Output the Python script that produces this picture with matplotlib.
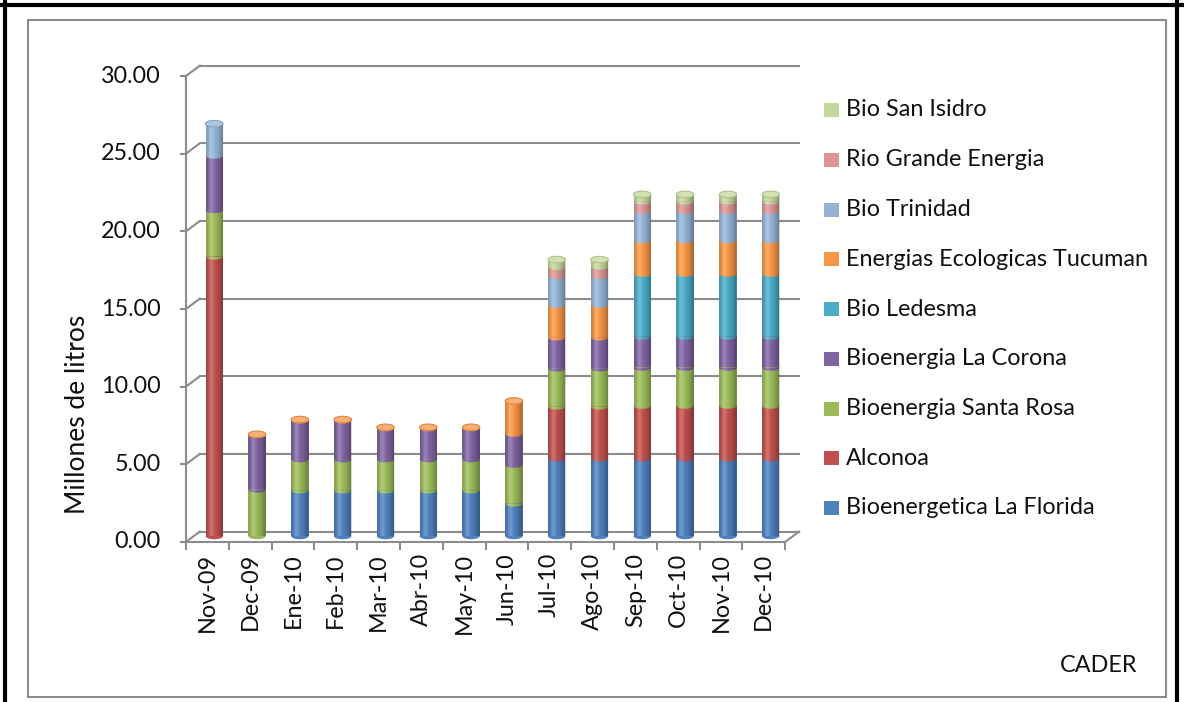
import matplotlib
matplotlib.use("Agg")
import matplotlib.pyplot as plt
import numpy as np
from matplotlib.patches import Rectangle, Ellipse, Polygon
from matplotlib.lines import Line2D

# ---------------- data ----------------
months = ["Nov-09", "Dec-09", "Ene-10", "Feb-10", "Mar-10", "Abr-10", "May-10",
          "Jun-10", "Jul-10", "Ago-10", "Sep-10", "Oct-10", "Nov-10", "Dec-10"]
florida    = [0.0, 0.0, 2.95, 2.95, 2.95, 2.95, 2.95, 2.1, 5.0, 5.0, 5.0, 5.0, 5.0, 5.0]
alconoa    = [18.0, 0.0, 0, 0, 0, 0, 0, 0, 3.35, 3.35, 3.4, 3.4, 3.4, 3.4]
santa_rosa = [3.0, 3.0, 2.0, 2.0, 2.0, 2.0, 2.0, 2.5, 2.45, 2.45, 2.45, 2.45, 2.45, 2.45]
la_corona  = [3.5, 3.5, 2.5, 2.5, 2.0, 2.0, 2.0, 2.0, 2.0, 2.0, 2.0, 2.0, 2.0, 2.0]
ledesma    = [0, 0, 0, 0, 0, 0, 0, 0, 0, 0, 4.05, 4.05, 4.05, 4.05]
tucuman    = [0, 0.05, 0.05, 0.05, 0.05, 0.05, 0.05, 2.1, 2.1, 2.1, 2.15, 2.15, 2.15, 2.15]
trinidad   = [2.05, 0, 0, 0, 0, 0, 0, 0, 1.85, 1.85, 1.9, 1.9, 1.9, 1.9]
rio_grande = [0, 0, 0, 0, 0, 0, 0, 0, 0.6, 0.6, 0.6, 0.6, 0.6, 0.6]
san_isidro = [0, 0, 0, 0, 0, 0, 0, 0, 0.45, 0.45, 0.45, 0.45, 0.45, 0.45]

series_names = ["Bioenergetica La Florida", "Alconoa", "Bioenergia Santa Rosa",
                "Bioenergia La Corona", "Bio Ledesma", "Energias Ecologicas Tucuman",
                "Bio Trinidad", "Rio Grande Energia", "Bio San Isidro"]
series_values = [florida, alconoa, santa_rosa, la_corona, ledesma, tucuman,
                 trinidad, rio_grande, san_isidro]
series_colors = ["#4F81BD", "#C0504D", "#9BBB59", "#8064A2", "#4BACC6",
                 "#F79646", "#95B3D7", "#D99694", "#C3D69B"]
y_ticks = [0, 5, 10, 15, 20, 25, 30]
y_label = "Millones de litros"
source = "CADER"

# ---------------- layout ----------------
W, H = 1184, 702
DPI = 100
fig = plt.figure(figsize=(W / DPI, H / DPI), dpi=DPI)
fig.patch.set_facecolor("white")

FONT = "Lato"
plt.rcParams["font.family"] = [FONT, "DejaVu Sans"]
FS = 16.8
TXT = "#111111"

def fig_rect(x0, y0, x1, y1):
    return [x0 / W, 1 - y1 / H, (x1 - x0) / W, (y1 - y0) / H]

n = len(months)
px_x = 42.8          # pixels per category
px_y = 15.53         # pixels per unit
x_left = 214.3 - px_x / 2
x_right = x_left + n * px_x
y_zero = 536.0
y_top = y_zero - 30 * px_y
ax = fig.add_axes(fig_rect(x_left, y_top, x_right, y_zero))
ax.set_xlim(-0.5, n - 0.5)
ax.set_ylim(0, 30)
ax.axis("off")

# depth offsets (in data units)
bdx, bdy = 7 / px_x, 4.5 / px_y
fdx, fdy = -7 / px_x, -6 / px_y

grid_c = "#8C8C8C"
glw = 1.5

for v in y_ticks:
    ax.add_line(Line2D([-0.5 + bdx, n - 0.5 + bdx], [v + bdy, v + bdy],
                       color=grid_c, lw=glw, clip_on=False, zorder=1))
    ax.add_line(Line2D([-0.5 + fdx, -0.5 + bdx], [v + fdy, v + bdy],
                       color=grid_c, lw=glw, clip_on=False, zorder=1))
    ax.add_line(Line2D([-0.5 + fdx - 5 / px_x, -0.5 + fdx], [v + fdy, v + fdy],
                       color=grid_c, lw=glw, clip_on=False, zorder=1))
    ax.text(-0.5 + fdx - 25 / px_x, v + fdy, f"{v:.2f}", ha="right", va="center",
            fontsize=FS, color=TXT)

ax.add_line(Line2D([-0.5 + fdx, -0.5 + fdx], [fdy, 30 + fdy], color=grid_c, lw=glw,
                   clip_on=False, zorder=1))
ax.add_line(Line2D([-0.5 + fdx, n - 0.5 + fdx], [fdy, fdy], color=grid_c, lw=glw,
                   clip_on=False, zorder=1))
ax.add_line(Line2D([n - 0.5 + fdx, n - 0.5 + bdx], [fdy, bdy], color=grid_c, lw=glw,
                   clip_on=False, zorder=1))
for i in range(n + 1):
    xb = i - 0.5 + fdx
    ax.add_line(Line2D([xb, xb], [fdy, fdy - 7 / px_y], color=grid_c, lw=glw,
                       clip_on=False, zorder=1))

for i, m in enumerate(months):
    ax.text(i + fdx, fdy - 11 / px_y, m, rotation=90, ha="center", va="top",
            fontsize=FS, color=TXT)

fig.text(78 / W, 1 - 414 / H, y_label, rotation=90, ha="center", va="center",
         fontsize=19, color=TXT)

# ---------------- cylinders ----------------
bw = 0.41
eh = 6.5 / px_y
t_lo = np.linspace(np.pi, 2 * np.pi, 40)


def lighten(c, f):
    r, g, b = matplotlib.colors.to_rgb(c)
    return (r + (1 - r) * f, g + (1 - g) * f, b + (1 - b) * f)


def darken(c, f):
    r, g, b = matplotlib.colors.to_rgb(c)
    return (r * (1 - f), g * (1 - f), b * (1 - f))


N = 64
tt = np.linspace(0, 1, N)
dark = 0.36 * (np.abs(tt - 0.38) / 0.62) ** 1.8
light = 0.2 * np.exp(-((tt - 0.3) / 0.13) ** 2)
grad = np.zeros((1, N, 4))
for k in range(N):
    if light[k] > dark[k]:
        grad[0, k] = [1, 1, 1, light[k]]
    else:
        grad[0, k] = [0, 0, 0, dark[k]]

for i in range(n):
    bottom = 0.0
    top_color = None
    for vals, col in zip(series_values, series_colors):
        h = vals[i]
        if h <= 0:
            continue
        ax.add_patch(Rectangle((i - bw / 2, bottom), bw, h, facecolor=col,
                               edgecolor="none", clip_on=False, zorder=3))
        xs = i + bw / 2 * np.cos(t_lo)
        ys = bottom + eh / 2 * np.sin(t_lo)
        ax.add_patch(Polygon(np.column_stack([xs, ys]), closed=True, facecolor=col,
                             edgecolor="none", clip_on=False, zorder=3))
        bottom += h
        top_color = col
    total = bottom
    shape = np.vstack([[i - bw / 2, total], [i - bw / 2, 0],
                       np.column_stack([i + bw / 2 * np.cos(t_lo),
                                        eh / 2 * np.sin(t_lo)]),
                       [i + bw / 2, 0], [i + bw / 2, total]])
    clip = Polygon(shape, closed=True, transform=ax.transData)
    im = ax.imshow(grad, extent=(i - bw / 2, i + bw / 2, -eh, total), aspect="auto",
                   zorder=4, interpolation="bilinear")
    im.set_clip_path(clip)
    ax.add_patch(Ellipse((i, total), bw, eh, facecolor=lighten(top_color, 0.25),
                         edgecolor=darken(top_color, 0.1), lw=0.8, clip_on=False,
                         zorder=5))

ax.set_xlim(-0.5, n - 0.5)
ax.set_ylim(0, 30)
ax.set_aspect("auto")

# ---------------- legend ----------------
leg_items = list(zip(series_names, series_colors))[::-1]
y_first, y_step = 110, 49.75
for k, (name, col) in enumerate(leg_items):
    yc = y_first + k * y_step
    fig.patches.append(Rectangle((824 / W, 1 - (yc + 7) / H), 15 / W, 14 / H,
                                 transform=fig.transFigure, facecolor=col,
                                 edgecolor="none"))
    fig.text(846 / W, 1 - yc / H, name, ha="left", va="center", fontsize=FS,
             color=TXT)

fig.text(1137 / W, 1 - 666 / H, source, ha="right", va="center", fontsize=FS,
         color=TXT)

# ---------------- frames ----------------
fig.patches.append(Rectangle((28 / W, 1 - 697 / H), (1166 - 28) / W, (697 - 20) / H,
                             transform=fig.transFigure, facecolor="none",
                             edgecolor="#8C8C8C", lw=1.5))
fig.add_artist(Line2D([0, 1], [1 - 5 / H, 1 - 5 / H], transform=fig.transFigure,
                      color="black", lw=3))
fig.add_artist(Line2D([5 / W, 5 / W], [0, 1], transform=fig.transFigure,
                      color="black", lw=3))
fig.add_artist(Line2D([1177 / W, 1177 / W], [0, 1], transform=fig.transFigure,
                      color="black", lw=3))

fig.savefig("out.png", dpi=DPI)
